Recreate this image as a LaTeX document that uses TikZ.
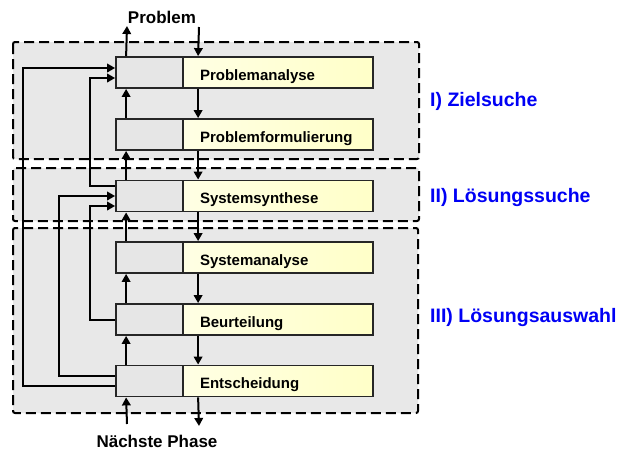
\documentclass[tikz,border=0pt]{standalone}
\usepackage{fontspec}
\setmainfont{Liberation Sans}
\usetikzlibrary{arrows.meta,calc}
\definecolor{phasegray}{RGB}{232,232,232}
\definecolor{stepgray}{RGB}{230,230,230}
\definecolor{yellowlight}{RGB}{255,255,228}
\definecolor{yellowdeep}{RGB}{255,255,200}
\definecolor{labelblue}{RGB}{0,0,245}

\begin{document}
\begin{tikzpicture}[x=1pt,y=-1pt,
  phase/.style={draw=black, line width=2pt, dash pattern=on 10pt off 5pt,
    fill=phasegray, rounded corners=2pt},
  graybox/.style={draw=black!85, line width=1.8pt, fill=stepgray,
    minimum width=67pt, minimum height=31pt, inner sep=0pt},
  yellowbox/.style={draw=black!85, line width=1.8pt,
    left color=yellowlight, right color=yellowdeep,
    font=\bfseries\fontsize{15}{18}\selectfont,
    text width=156pt, inner xsep=17pt, inner ysep=0pt, align=left,
    minimum height=31pt, text height=15pt, text depth=0pt},
  arr/.style={line width=2pt, -{Triangle[length=8pt,width=8.5pt]}},
  flow/.style={font=\bfseries\fontsize{17}{20}\selectfont, inner sep=0pt},
  phaselabel/.style={font=\bfseries\fontsize{19.5}{23}\selectfont,
    text=labelblue, inner sep=0pt, anchor=base west}]

\useasboundingbox (0,0) rectangle (626,450);

% phase frames
\draw[phase] (13,42) rectangle (419,159);
\draw[phase] (13,168) rectangle (419,221);
\draw[phase] (13,228) rectangle (418,413);

% steps: gray control part and yellow activity part
\node[graybox] (gA) at (149.5,72.5) {};
\node[yellowbox] (yA) at (278,72.5) {Problemanalyse};
\node[graybox] (gB) at (149.5,134.5) {};
\node[yellowbox] (yB) at (278,134.5) {Problemformulierung};
\node[graybox] (gC) at (149.5,196) {};
\node[yellowbox] (yC) at (278,196) {Systemsynthese};
\node[graybox] (gD) at (149.5,257.5) {};
\node[yellowbox] (yD) at (278,257.5) {Systemanalyse};
\node[graybox] (gE) at (149.5,319.5) {};
\node[yellowbox] (yE) at (278,319.5) {Beurteilung};
\node[graybox] (gF) at (149.5,381) {};
\node[yellowbox] (yF) at (278,381) {Entscheidung};

% entry and exit texts
\node[flow, anchor=base] (problem) at (162,23) {Problem};
\node[flow, anchor=base] (next) at (157,447) {Nächste Phase};
\coordinate (inTop) at (199,27);
\coordinate (outTop) at (127,26);
\coordinate (inBot) at (127,424);
\coordinate (outBot) at (199,426);

% forward flow (down) and return flow (up)
\draw[arr] (inTop) -- ([xshift=16pt]yA.north west);
\draw[arr] ([xshift=11pt]gA.north west) -- (outTop);
\foreach \u/\v in {A/B,B/C,C/D,D/E,E/F}{
  \draw[arr] ([xshift=16pt]y\u.south west) -- ([xshift=16pt]y\v.north west);
  \draw[arr] ([xshift=11pt]g\v.north west) -- ([xshift=11pt]g\u.south west);
}
\draw[arr] (inBot) -- ([xshift=11pt]gF.south west);
\draw[arr] ([xshift=16pt]yF.south west) -- (outBot);

% feedback loops on the left
\draw[arr] ([yshift=-5pt]gF.west) -- ++(-92,0) |- ([yshift=4.5pt]gA.west);
\draw[arr] ([yshift=10pt]gC.west) -- ++(-25,0) |- ([yshift=-5.5pt]gA.west);
\draw[arr] ([yshift=5pt]gF.west) -- ++(-56,0) |- (gC.west);
\draw[arr] (gE.west) -- ++(-25,0) |- ([yshift=-10pt]gC.west);

% phase names
\node[phaselabel] (p1) at (430,106.3) {I) Zielsuche};
\node[phaselabel] (p2) at (430,202) {II) Lösungssuche};
\node[phaselabel] (p3) at (430,322.3) {III) Lösungsauswahl};

\end{tikzpicture}
\end{document}
